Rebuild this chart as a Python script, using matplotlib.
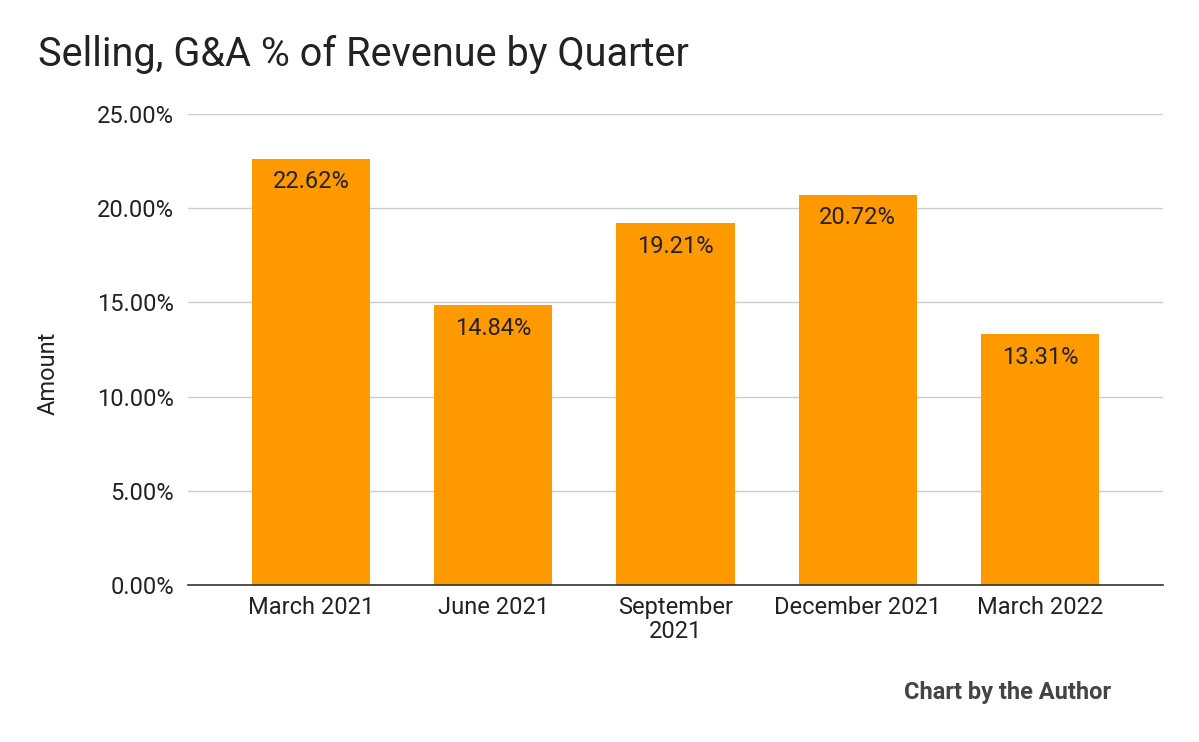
import matplotlib
matplotlib.use("Agg")
import matplotlib.pyplot as plt
from matplotlib.ticker import FuncFormatter

categories = ["March 2021", "June 2021", "September\n2021", "December 2021", "March 2022"]
values = [22.62, 14.84, 19.21, 20.72, 13.31]
yticks = [0, 5, 10, 15, 20, 25]

plt.rcParams['font.family'] = ['Roboto', 'DejaVu Sans']

fig = plt.figure(figsize=(11.99, 7.42), dpi=100)
ax = fig.add_axes([188/1199, 157/742, (1163-188)/1199, (585-114)/742])

x = list(range(len(categories)))
bars = ax.bar(x, values, width=0.648, color="#FF9900", zorder=3)
for xi, v in zip(x, values):
    ax.text(xi, v - 1.22, f"{v:.2f}%", ha="center", va="center", fontsize=17, color="#222222", zorder=4)

ax.set_xlim(-0.676, 4.676)
ax.set_ylim(0, 25)
ax.set_yticks(yticks)
ax.yaxis.set_major_formatter(FuncFormatter(lambda v, p: f"{v:.2f}%"))
ax.set_xticks(x)
ax.set_xticklabels(categories, fontsize=17, color="#222222", linespacing=1.05)
ax.tick_params(axis="y", labelsize=17, labelcolor="#222222", length=0, pad=10)
ax.tick_params(axis="x", length=0, pad=8)
ax.grid(axis="y", color="#CCCCCC", linewidth=1, zorder=0)
for s in ["top", "right", "left"]:
    ax.spines[s].set_visible(False)
ax.spines["bottom"].set_color("#333333")
ax.spines["bottom"].set_linewidth(1.2)
ax.spines["bottom"].set_zorder(5)

fig.text(48/1199, 1 - 373/742, "Amount", fontsize=17, color="#222222", rotation=90, va="center", ha="center")
fig.text(38/1199, 1 - 55/742, "Selling, G&A % of Revenue by Quarter", fontsize=28.5, color="#222222", va="center", ha="left")
fig.text(1111/1199, 1 - 692/742, "Chart by the Author", fontsize=17, fontweight="bold", color="#444444", va="center", ha="right")

fig.savefig("out.png", dpi=100)
